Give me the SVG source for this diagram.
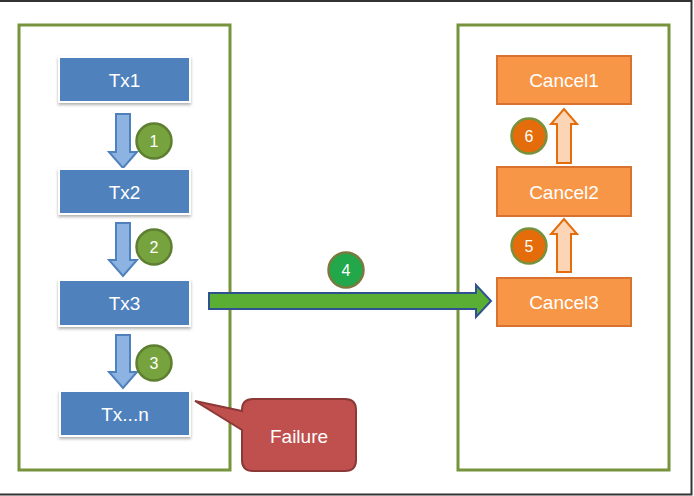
<svg xmlns="http://www.w3.org/2000/svg" width="694" height="496" viewBox="0 0 694 496">
<defs>
<filter id="sh" x="-10%" y="-10%" width="120%" height="140%">
<feDropShadow dx="0" dy="2" stdDeviation="1.5" flood-color="#000" flood-opacity="0.3"/>
</filter>
</defs>
<style>
.lbl{font-family:"Liberation Sans",Arial,sans-serif;fill:#fff;text-anchor:middle;dominant-baseline:central}
.tx rect{fill:#4F81BD;stroke:#fff;stroke-width:2;filter:url(#sh)}
.tx text{font-size:19px}
.cn rect{fill:#F79646;stroke:#D8732F;stroke-width:2}
.cn text{font-size:19px}
.num{font-size:16px}
.gc{fill:#77A33F;stroke:#5E7F32;stroke-width:2.5}
.oc{fill:#E46C0A;stroke:#76923C;stroke-width:2.5}
.bc{fill:#22A84A;stroke:#7A7A3E;stroke-width:2.5}
.dn{fill:#8DB3E2;stroke:#4F81BD;stroke-width:2}
.up{fill:#FBD5B5;stroke:#E46C0A;stroke-width:2}
.cont{fill:#fff;stroke:#77933C;stroke-width:3}
</style>
<rect x="0" y="0" width="694" height="496" fill="#fff"/>
<path d="M0 1 H691.5 V494.5 H0" fill="none" stroke="#333" stroke-width="2"/>

<g id="left-container"><rect class="cont" x="19" y="25" width="211" height="445"/></g>
<g id="right-container"><rect class="cont" x="458" y="25" width="211" height="445"/></g>

<g id="connectors">
<path class="dn" d="M116 114 H130 V152 H137 L123 168 L109 152 H116 Z"/>
<path class="dn" d="M116 223 H130 V260 H137 L123 276 L109 260 H116 Z"/>
<path class="dn" d="M116 335 H130 V372 H137 L123 388 L109 372 H116 Z"/>
<path d="M209 293 H476 V285 L491 301 L476 317 V309 H209 Z" fill="#5AAE34" stroke="#2E528F" stroke-width="2"/>
<path class="up" d="M557 163 H571 V124 H577 L564 109 L551 124 H557 Z"/>
<path class="up" d="M557 272 H571 V234 H577 L564 219 L551 234 H557 Z"/>
</g>

<g id="step1"><circle class="gc" cx="154" cy="141" r="17.5"/><text class="lbl num" x="154" y="141">1</text></g>
<g id="step2"><circle class="gc" cx="154" cy="247" r="17.5"/><text class="lbl num" x="154" y="247">2</text></g>
<g id="step3"><circle class="gc" cx="154" cy="363" r="17.5"/><text class="lbl num" x="154" y="363">3</text></g>
<g id="step4"><circle class="bc" cx="346" cy="270" r="17.5"/><text class="lbl num" x="346" y="270">4</text></g>
<g id="step5"><circle class="oc" cx="529" cy="246" r="17.5"/><text class="lbl num" x="529" y="246">5</text></g>
<g id="step6"><circle class="oc" cx="529" cy="136" r="17.5"/><text class="lbl num" x="529" y="136">6</text></g>

<g id="tx1" class="tx"><rect x="59" y="57" width="131" height="45"/><text class="lbl" x="124.5" y="80.5">Tx1</text></g>
<g id="tx2" class="tx"><rect x="59" y="169" width="131" height="45"/><text class="lbl" x="124.5" y="192">Tx2</text></g>
<g id="tx3" class="tx"><rect x="59" y="280" width="131" height="46"/><text class="lbl" x="124.5" y="303">Tx3</text></g>
<g id="txn" class="tx"><rect x="60" y="391" width="130" height="45"/><text class="lbl" x="125" y="414">Tx...n</text></g>

<g id="cancel1" class="cn"><rect x="497" y="56" width="134" height="48"/><text class="lbl" x="564" y="80.5">Cancel1</text></g>
<g id="cancel2" class="cn"><rect x="497" y="167" width="134" height="49"/><text class="lbl" x="564" y="192">Cancel2</text></g>
<g id="cancel3" class="cn"><rect x="497" y="278" width="134" height="48"/><text class="lbl" x="564" y="302.5">Cancel3</text></g>

<g id="failure">
<path d="M253 399 H345 Q356 399 356 410 V460 Q356 471 345 471 H253 Q242 471 242 460 V430 L195 401 L242 411 V410 Q242 399 253 399 Z" fill="#C0504D" stroke="#8C3836" stroke-width="2"/>
<text class="lbl" x="299" y="436" style="font-size:19px">Failure</text>
</g>
</svg>
